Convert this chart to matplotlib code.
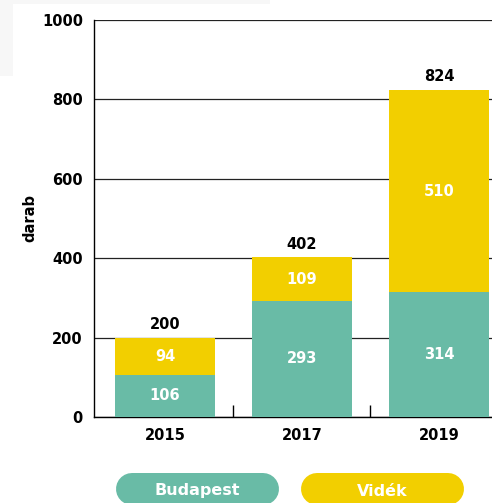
import numpy as np
import matplotlib.pyplot as plt
from matplotlib.patches import Rectangle

years = ["2015", "2017", "2019"]
budapest = [106, 293, 314]
videk = [94, 109, 510]
totals = [200, 402, 824]
legend_labels = ["Budapest", "Vidék"]

teal = "#69bba6"
yellow = "#f2cf00"

plt.rcParams['font.family'] = ['DejaVu Sans']
plt.rcParams['font.weight'] = 'bold'

fig = plt.figure(figsize=(4.92, 5.03), dpi=100)

# overlay axes in pixel coords for the background bits and the pill legend
bg = fig.add_axes([0, 0, 1, 1], zorder=-1)
bg.set_xlim(0, 492)
bg.set_ylim(503, 0)
bg.axis('off')
bg.add_patch(Rectangle((0, 0), 270, 4, color="#f7f7f7", lw=0))
bg.add_patch(Rectangle((0, 0), 13, 76, color="#f7f7f7", lw=0))

ax = fig.add_axes([94/492, 86/503, (492-94)/492, 397/503])

x = np.arange(len(years))
w = 0.73
ax.bar(x, budapest, w, color=teal, zorder=3)
ax.bar(x, videk, w, bottom=budapest, color=yellow, zorder=3)

for i in range(len(years)):
    ax.text(x[i], budapest[i] / 2, str(budapest[i]), ha='center', va='center',
            color='white', fontsize=10.5, fontweight='bold', zorder=4)
    ax.text(x[i], budapest[i] + videk[i] / 2, str(videk[i]), ha='center', va='center',
            color='white', fontsize=10.5, fontweight='bold', zorder=4)
    ax.text(x[i], totals[i] + 14, str(totals[i]), ha='center', va='bottom',
            color='black', fontsize=10.5, fontweight='bold', zorder=4)

ax.set_xlim(-0.518, -0.518 + (492-94)/137)
ax.set_ylim(0, 1000)
ax.set_yticks(np.arange(0, 1001, 200))
ax.yaxis.grid(True, color='#222222', linewidth=0.9, zorder=0)
ax.set_xticks(x)
ax.set_xticklabels(years)
ax.set_xticks([0.5, 1.5], minor=True)
ax.tick_params(axis='x', which='major', length=0, pad=8, labelsize=10.5)
ax.tick_params(axis='x', which='minor', direction='in', length=9, width=1)
ax.tick_params(axis='y', length=0, pad=8, labelsize=10.5)
for s in ['top', 'right']:
    ax.spines[s].set_visible(False)
ax.spines['left'].set_linewidth(1)
ax.spines['bottom'].set_linewidth(1)
ax.set_ylabel("darab", fontsize=10.5, fontweight='bold', labelpad=3)

# pill legend: thick lines with round caps
leg = fig.add_axes([0, 0, 1, 1])
leg.set_xlim(0, 492)
leg.set_ylim(503, 0)
leg.axis('off')
for lab, col, x0 in zip(legend_labels, [teal, yellow], [116, 301]):
    leg.plot([x0 + 16, x0 + 163 - 16], [489, 489], color=col, lw=32 * 0.72,
             solid_capstyle='round')
    leg.text(x0 + 81.5, 491, lab, ha='center', va='center', color='white',
             fontsize=11.5, fontweight='bold')

fig.savefig("out.png", dpi=100)
